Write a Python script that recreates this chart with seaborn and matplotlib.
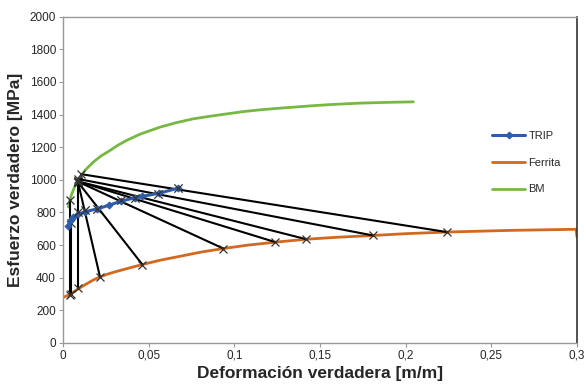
import matplotlib
matplotlib.use("Agg")
import matplotlib.pyplot as plt
import seaborn as sns
import pandas as pd

# Curvas
trip_eps = [0.003, 0.004, 0.006, 0.009, 0.013, 0.020, 0.027, 0.034, 0.042, 0.046, 0.056, 0.067]
trip_sig = [715, 745, 770, 790, 805, 822, 845, 870, 890, 898, 918, 948]

ferr_eps = [0.0, 0.002, 0.0045, 0.0065, 0.0086, 0.012, 0.015, 0.018, 0.0216, 0.026, 0.030,
            0.037, 0.0463, 0.057, 0.070, 0.081, 0.0936, 0.108, 0.124, 0.142, 0.160, 0.181,
            0.200, 0.224, 0.260, 0.2995, 0.300]
ferr_sig = [280, 288, 300, 315, 330, 352, 370, 388, 405, 422, 435, 455, 481, 508, 535, 558,
            579, 600, 618, 636, 648, 659, 670, 680, 690, 697, 650]

bm_eps = [0.0031, 0.004, 0.005, 0.0065, 0.008, 0.0099, 0.013, 0.0177, 0.022, 0.0274, 0.032,
          0.0372, 0.045, 0.0566, 0.066, 0.076, 0.086, 0.0955, 0.105, 0.115, 0.125, 0.134,
          0.144, 0.154, 0.163, 0.173, 0.190, 0.2045]
bm_sig = [834, 875, 910, 950, 985, 1017, 1060, 1109, 1145, 1180, 1212, 1242, 1280, 1323,
          1350, 1374, 1390, 1404, 1418, 1429, 1438, 1445, 1453, 1460, 1465, 1470, 1475, 1478]

# Lineas de union (extremo izquierdo -> punto en ferrita)
tie_x0 = [0.0041, 0.0045, 0.0086, 0.0088, 0.0088, 0.0089, 0.0089, 0.0090, 0.0090, 0.0105]
tie_y0 = [875, 735, 985, 985, 985, 988, 990, 990, 1005, 1035]
tie_x1 = [0.0041, 0.0045, 0.0086, 0.0216, 0.0463, 0.0936, 0.124, 0.142, 0.181, 0.224]
tie_y1 = [294, 300, 335, 405, 481, 579, 618, 636, 659, 680]

# Cruces sobre la curva TRIP
cross_x = [0.0086, 0.0128, 0.020, 0.034, 0.042, 0.0557, 0.0673]
cross_y = [803, 813, 824, 875, 891, 915, 950]

xticks = [0, 0.05, 0.1, 0.15, 0.2, 0.25, 0.3]
xtick_labels = ["0", "0,05", "0,1", "0,15", "0,2", "0,25", "0,3"]
yticks = list(range(0, 2001, 200))

sns.set_style("white")
plt.rcParams['font.family'] = ['Liberation Sans', 'DejaVu Sans']

fig = plt.figure(figsize=(5.86, 3.87), dpi=100)
ax = fig.add_axes([0.1075, 0.1137, 0.8771, 0.8432])

for i in range(len(tie_x0)):
    ax.plot([tie_x0[i], tie_x1[i]], [tie_y0[i], tie_y1[i]], color="black", lw=1.5,
            marker="x", ms=6, mec="#333333", mew=0.9, zorder=3)

df_f = pd.DataFrame({"x": ferr_eps, "y": ferr_sig})
df_b = pd.DataFrame({"x": bm_eps, "y": bm_sig})
df_t = pd.DataFrame({"x": trip_eps, "y": trip_sig})

sns.lineplot(data=df_f, x="x", y="y", sort=False, estimator=None, color="#D2691E",
             lw=2, ax=ax, label="Ferrita", zorder=2)
sns.lineplot(data=df_b, x="x", y="y", sort=False, estimator=None, color="#77B843",
             lw=2, ax=ax, label="BM", zorder=2)
sns.lineplot(data=df_t, x="x", y="y", sort=False, estimator=None, color="#2E5CA8",
             lw=2.2, marker="D", ms=3.5, mec="#2E5CA8", ax=ax, label="TRIP", zorder=4)
ax.scatter(cross_x, cross_y, marker="x", s=36, color="#333333", lw=0.9, zorder=5)

ax.set_xlim(0, 0.3)
ax.set_ylim(0, 2000)
ax.set_xticks(xticks)
ax.set_xticklabels(xtick_labels, fontsize=8.5)
ax.set_yticks(yticks)
ax.set_yticklabels([str(v) for v in yticks], fontsize=8.5)
ax.tick_params(axis="both", direction="out", length=3, width=0.8, color="#999999",
               bottom=True, left=True, pad=2)

for side in ["left", "bottom", "top"]:
    ax.spines[side].set_color("#999999")
    ax.spines[side].set_linewidth(1)
ax.spines["right"].set_color("#333333")
ax.spines["right"].set_linewidth(1.2)

ax.set_xlabel("Deformación verdadera [m/m]", fontsize=12.5, fontweight="bold", labelpad=3)
ax.set_ylabel("Esfuerzo verdadero [MPa]", fontsize=12.5, fontweight="bold", labelpad=5)

handles, labels = ax.get_legend_handles_labels()
order = [labels.index(n) for n in ["TRIP", "Ferrita", "BM"]]
ax.legend([handles[i] for i in order], [labels[i] for i in order], loc="upper left",
          bbox_to_anchor=(0.815, 0.68), frameon=False, fontsize=8, handlelength=3,
          labelspacing=1.5, handletextpad=0.3)

fig.savefig("out.png", dpi=100)
